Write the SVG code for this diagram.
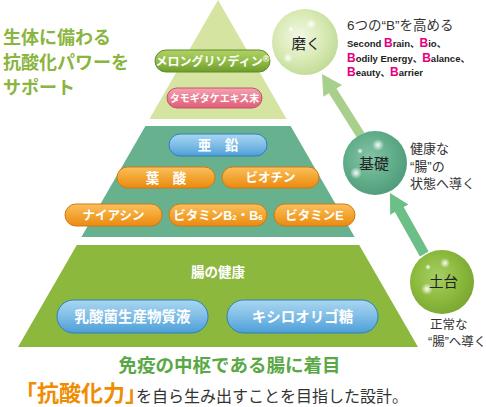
<svg xmlns="http://www.w3.org/2000/svg" width="486" height="407" viewBox="0 0 486 407">
<style>
.jp{font-family:"Noto Sans CJK JP",sans-serif}
.lat{font-family:"Liberation Sans","Noto Sans CJK JP",sans-serif}
.pt{font-family:"Noto Sans CJK JP",sans-serif;font-weight:700;fill:#fff;text-anchor:middle}
.dk{fill:#333}
.bm{fill:#e4007f;font-size:12px}
.pg{fill:url(#gGreen);stroke:#5e8c27;stroke-width:1}
.pp{fill:url(#gPink);stroke:#c9506a;stroke-width:1}
.pb{fill:url(#gBlue);stroke:#2f7fbf;stroke-width:1}
.po{fill:url(#gOrange);stroke:#d37812;stroke-width:1}
.spk{fill:url(#gSpk)}
</style>
<defs>
<linearGradient id="gGreen" x1="0" y1="0" x2="0" y2="1"><stop offset="0" stop-color="#b1d166"/><stop offset="0.5" stop-color="#93bd48"/><stop offset="1" stop-color="#6f9c2b"/></linearGradient>
<linearGradient id="gPink" x1="0" y1="0" x2="0" y2="1"><stop offset="0" stop-color="#f4a3b1"/><stop offset="0.5" stop-color="#ea7d92"/><stop offset="1" stop-color="#df5f79"/></linearGradient>
<linearGradient id="gBlue" x1="0" y1="0" x2="0" y2="1"><stop offset="0" stop-color="#a9d7f1"/><stop offset="0.5" stop-color="#7fbde6"/><stop offset="1" stop-color="#4c9ed8"/></linearGradient>
<linearGradient id="gOrange" x1="0" y1="0" x2="0" y2="1"><stop offset="0" stop-color="#f9c05e"/><stop offset="0.5" stop-color="#f3a532"/><stop offset="1" stop-color="#ea8a12"/></linearGradient>
<radialGradient id="cTop" cx="0.42" cy="0.42" r="0.6"><stop offset="0" stop-color="#f3f8e6"/><stop offset="0.6" stop-color="#d9eab5"/><stop offset="1" stop-color="#c2db99"/></radialGradient>
<radialGradient id="cMid" cx="0.42" cy="0.42" r="0.6"><stop offset="0" stop-color="#86c4a6"/><stop offset="0.6" stop-color="#62ae8b"/><stop offset="1" stop-color="#519d7b"/></radialGradient>
<radialGradient id="cLow" cx="0.42" cy="0.42" r="0.6"><stop offset="0" stop-color="#a9cf66"/><stop offset="0.6" stop-color="#8cba3d"/><stop offset="1" stop-color="#7aa832"/></radialGradient>
<radialGradient id="gSpk"><stop offset="0" stop-color="#fff" stop-opacity="0.95"/><stop offset="1" stop-color="#fff" stop-opacity="0"/></radialGradient>
</defs>
<rect width="486" height="407" fill="#fff"/>

<g id="pyramid">
<polygon points="218,0 286.6,119 149.4,119" fill="#d5e5a1"/>
<polygon points="145.4,126 290.6,126 354.6,237 81.4,237" fill="#67b18f"/>
<polygon points="76.8,245 359.2,245 418,347 18,347" fill="#8cb83d"/>
</g>

<g id="heading" class="jp" font-weight="700" font-size="18" fill="#8ab53e">
<text x="3" y="43.5">生体に備わる</text>
<text x="3" y="68.5">抗酸化パワーを</text>
<text x="3" y="93.5">サポート</text>
</g>

<g id="connectors">
<path transform="translate(322,74) rotate(-32.3)" d="M0,0 L11,20 L4.5,20 L4.5,72 L-4.5,72 L-4.5,20 L-11,20 Z" fill="#a8cf8c"/>
<path transform="translate(390,193) rotate(-29.3)" d="M0,0 L10.5,19 L5,19 L5,70 L-5,70 L-5,19 L-10.5,19 Z" fill="#6cbf86"/>
</g>

<g id="node-melon">
<rect class="pg" x="155" y="50" width="115" height="22" rx="11"/>
<text class="pt" x="212.5" y="65.5" font-size="12">メロングリソディン<tspan font-family="Liberation Sans" font-size="9" dy="-4">®</tspan></text>
</g>
<g id="node-tamogi">
<rect class="pp" x="167" y="88" width="95" height="20" rx="10"/>
<text class="pt" x="214.5" y="102" font-size="10">タモギタケエキス末</text>
</g>
<g id="node-zinc">
<rect class="pb" x="169" y="134" width="98" height="22" rx="11"/>
<text class="pt" x="218" y="150" font-size="13.5">亜　鉛</text>
</g>
<g id="node-folate">
<rect class="po" x="117" y="167" width="98" height="21" rx="10.5"/>
<text class="pt" x="166" y="182.5" font-size="13.5">葉　酸</text>
</g>
<g id="node-biotin">
<rect class="po" x="222" y="167" width="97" height="21" rx="10.5"/>
<text class="pt" x="270.5" y="182.3" font-size="12.5">ビオチン</text>
</g>
<g id="node-niacin">
<rect class="po" x="65" y="204" width="97" height="22" rx="11"/>
<text class="pt" x="113.5" y="219.6" font-size="12.5">ナイアシン</text>
</g>
<g id="node-vitb">
<rect class="po" x="169" y="204" width="98" height="22" rx="11"/>
<text class="pt" x="218" y="219.6" font-size="12.5">ビタミン<tspan font-family="Liberation Sans">B</tspan><tspan font-family="Liberation Sans" font-size="8">2</tspan>・<tspan font-family="Liberation Sans">B</tspan><tspan font-family="Liberation Sans" font-size="8">6</tspan></text>
</g>
<g id="node-vite">
<rect class="po" x="274" y="204" width="81" height="22" rx="11"/>
<text class="pt" x="314.5" y="219.6" font-size="12.5">ビタミン<tspan font-family="Liberation Sans">E</tspan></text>
</g>
<g id="label-gut">
<text class="pt" x="218" y="277" font-size="13.5">腸の健康</text>
</g>
<g id="node-lactic">
<rect class="pb" x="57" y="300" width="151" height="33" rx="16.5"/>
<text class="pt" x="132.5" y="322" font-size="14.5">乳酸菌生産物質液</text>
</g>
<g id="node-xylo">
<rect class="pb" x="227" y="300" width="151" height="33" rx="16.5"/>
<text class="pt" x="302.5" y="322" font-size="14.5">キシロオリゴ糖</text>
</g>

<g id="node-migaku">
<circle cx="305" cy="42" r="33" fill="url(#cTop)"/>
<circle class="spk" cx="311" cy="24" r="5"/>
<circle class="spk" cx="291" cy="29" r="3"/>
<circle class="spk" cx="288" cy="58" r="5"/>
<text class="jp" x="306" y="49" font-size="14.5" fill="#222" text-anchor="middle">磨く</text>
</g>
<g id="node-kiso">
<circle cx="375" cy="163" r="32" fill="url(#cMid)"/>
<circle class="spk" cx="378" cy="145" r="6"/>
<circle class="spk" cx="360" cy="151" r="3"/>
<circle class="spk" cx="356" cy="173" r="6"/>
<text class="jp" x="374" y="169" font-size="15" fill="#222" text-anchor="middle">基礎</text>
</g>
<g id="node-dodai">
<circle cx="442" cy="282" r="32" fill="url(#cLow)"/>
<circle class="spk" cx="445" cy="263" r="5"/>
<circle class="spk" cx="428" cy="267" r="3"/>
<circle class="spk" cx="427" cy="289" r="6"/>
<text class="jp" x="443.5" y="287" font-size="14.5" fill="#222" text-anchor="middle">土台</text>
</g>

<g id="right-texts" class="lat dk">
<text x="347" y="30" font-size="13.5">6つの“B”を高める</text>
<g font-weight="700" font-size="9.5" fill="#222">
<text x="347" y="47">Second <tspan class="bm">B</tspan>rain、<tspan class="bm">B</tspan>io、</text>
<text x="347" y="61.5"><tspan class="bm">B</tspan>odily Energy、<tspan class="bm">B</tspan>alance、</text>
<text x="347" y="75.5"><tspan class="bm">B</tspan>eauty、<tspan class="bm">B</tspan>arrier</text>
</g>
<g font-size="13">
<text x="410" y="153">健康な</text>
<text x="410" y="170.5">“腸”の</text>
<text x="410" y="188">状態へ導く</text>
</g>
<g font-size="12.5">
<text x="430" y="329">正常な</text>
<text x="428" y="346">“腸”へ導く</text>
</g>
</g>

<g id="footer">
<text class="jp" x="229.5" y="372" font-size="18.5" font-weight="700" fill="#5aa845" text-anchor="middle">免疫の中枢である腸に着目</text>
<text class="jp" x="15" y="401" font-size="22" font-weight="700" fill="#f08c00">「抗酸化力」</text>
<text class="jp" x="136" y="402" font-size="16" fill="#333">を自ら生み出すことを目指した設計。</text>
</g>
</svg>
